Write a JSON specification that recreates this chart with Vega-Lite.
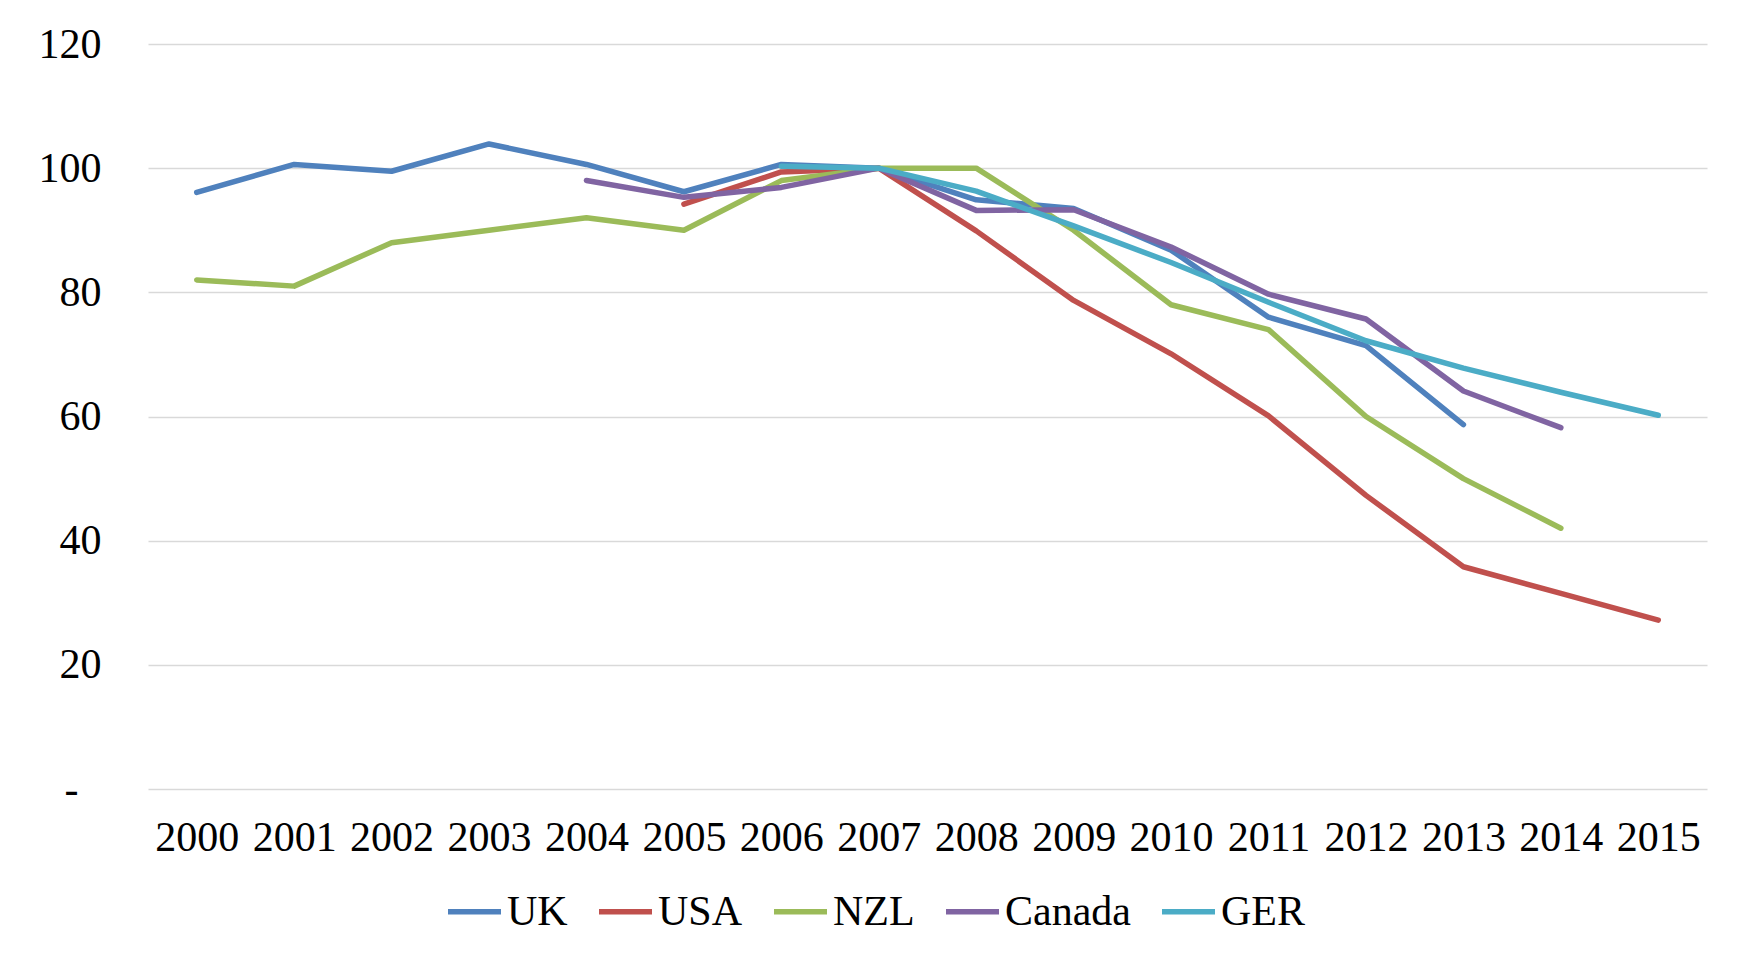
{
  "$schema": "https://vega.github.io/schema/vega-lite/v6.json",
  "width": 1559,
  "height": 745,
  "autosize": {"type": "none"},
  "padding": {"left": 148, "top": 44, "right": 34, "bottom": 165},
  "background": "white",
  "data": {
    "values": [
      {"year": "2000", "country": "UK", "value": 96.1},
      {"year": "2001", "country": "UK", "value": 100.6},
      {"year": "2002", "country": "UK", "value": 99.5},
      {"year": "2003", "country": "UK", "value": 103.9},
      {"year": "2004", "country": "UK", "value": 100.6},
      {"year": "2005", "country": "UK", "value": 96.2},
      {"year": "2006", "country": "UK", "value": 100.6},
      {"year": "2007", "country": "UK", "value": 100},
      {"year": "2008", "country": "UK", "value": 94.9},
      {"year": "2009", "country": "UK", "value": 93.5},
      {"year": "2010", "country": "UK", "value": 86.8},
      {"year": "2011", "country": "UK", "value": 76.0},
      {"year": "2012", "country": "UK", "value": 71.4},
      {"year": "2013", "country": "UK", "value": 58.7},
      {"year": "2005", "country": "USA", "value": 94.2},
      {"year": "2006", "country": "USA", "value": 99.4},
      {"year": "2007", "country": "USA", "value": 100},
      {"year": "2008", "country": "USA", "value": 89.9},
      {"year": "2009", "country": "USA", "value": 78.7},
      {"year": "2010", "country": "USA", "value": 70.1},
      {"year": "2011", "country": "USA", "value": 60.1},
      {"year": "2012", "country": "USA", "value": 47.3},
      {"year": "2013", "country": "USA", "value": 35.8},
      {"year": "2014", "country": "USA", "value": 31.5},
      {"year": "2015", "country": "USA", "value": 27.2},
      {"year": "2000", "country": "NZL", "value": 82.0},
      {"year": "2001", "country": "NZL", "value": 81.0},
      {"year": "2002", "country": "NZL", "value": 88.0},
      {"year": "2003", "country": "NZL", "value": 90.0},
      {"year": "2004", "country": "NZL", "value": 92.0},
      {"year": "2005", "country": "NZL", "value": 90.0},
      {"year": "2006", "country": "NZL", "value": 98.0},
      {"year": "2007", "country": "NZL", "value": 100},
      {"year": "2008", "country": "NZL", "value": 100},
      {"year": "2009", "country": "NZL", "value": 90.0},
      {"year": "2010", "country": "NZL", "value": 78.0},
      {"year": "2011", "country": "NZL", "value": 74.0},
      {"year": "2012", "country": "NZL", "value": 60.0},
      {"year": "2013", "country": "NZL", "value": 50.0},
      {"year": "2014", "country": "NZL", "value": 42.0},
      {"year": "2004", "country": "Canada", "value": 98.0},
      {"year": "2005", "country": "Canada", "value": 95.3},
      {"year": "2006", "country": "Canada", "value": 96.9},
      {"year": "2007", "country": "Canada", "value": 100},
      {"year": "2008", "country": "Canada", "value": 93.2},
      {"year": "2009", "country": "Canada", "value": 93.3},
      {"year": "2010", "country": "Canada", "value": 87.3},
      {"year": "2011", "country": "Canada", "value": 79.7},
      {"year": "2012", "country": "Canada", "value": 75.7},
      {"year": "2013", "country": "Canada", "value": 64.1},
      {"year": "2014", "country": "Canada", "value": 58.2},
      {"year": "2006", "country": "GER", "value": 100.3},
      {"year": "2007", "country": "GER", "value": 100},
      {"year": "2008", "country": "GER", "value": 96.3},
      {"year": "2009", "country": "GER", "value": 90.7},
      {"year": "2010", "country": "GER", "value": 84.8},
      {"year": "2011", "country": "GER", "value": 78.4},
      {"year": "2012", "country": "GER", "value": 72.2},
      {"year": "2013", "country": "GER", "value": 67.8},
      {"year": "2014", "country": "GER", "value": 63.9},
      {"year": "2015", "country": "GER", "value": 60.2}
    ]
  },
  "mark": {"type": "line", "strokeWidth": 5.5, "strokeCap": "round", "strokeJoin": "round"},
  "encoding": {
    "x": {
      "field": "year",
      "type": "ordinal",
      "scale": {"type": "point", "padding": 0.5},
      "axis": {
        "title": null,
        "labelAngle": 0,
        "domain": false,
        "ticks": false,
        "grid": false,
        "labelPadding": 28,
        "labelFont": "Liberation Serif",
        "labelFontSize": 42,
        "labelColor": "#000000"
      }
    },
    "y": {
      "field": "value",
      "type": "quantitative",
      "scale": {"domain": [0, 120], "nice": false},
      "axis": {
        "title": null,
        "values": [0, 20, 40, 60, 80, 100, 120],
        "labelExpr": "datum.value == 0 ? '-' : datum.label",
        "domain": false,
        "ticks": false,
        "grid": true,
        "gridColor": "#D9D9D9",
        "gridWidth": 1.5,
        "labelPadding": {"condition": {"test": "datum.value == 0", "value": 70}, "value": 47},
        "labelFont": "Liberation Serif",
        "labelFontSize": 42,
        "labelColor": "#000000"
      }
    },
    "color": {
      "field": "country",
      "type": "nominal",
      "scale": {
        "domain": ["UK", "USA", "NZL", "Canada", "GER"],
        "range": ["#4F81BD", "#C0504D", "#9BBB59", "#8064A2", "#4BACC6"]
      },
      "legend": {
        "title": null,
        "orient": "none",
        "direction": "horizontal",
        "legendX": 297,
        "legendY": 838,
        "padding": 0,
        "symbolType": "stroke",
        "symbolSize": 2809,
        "symbolStrokeWidth": 5.5,
        "columnPadding": 20,
        "labelOffset": 3,
        "labelFont": "Liberation Serif",
        "labelFontSize": 42,
        "labelColor": "#000000"
      }
    }
  },
  "config": {"view": {"stroke": null}}
}
